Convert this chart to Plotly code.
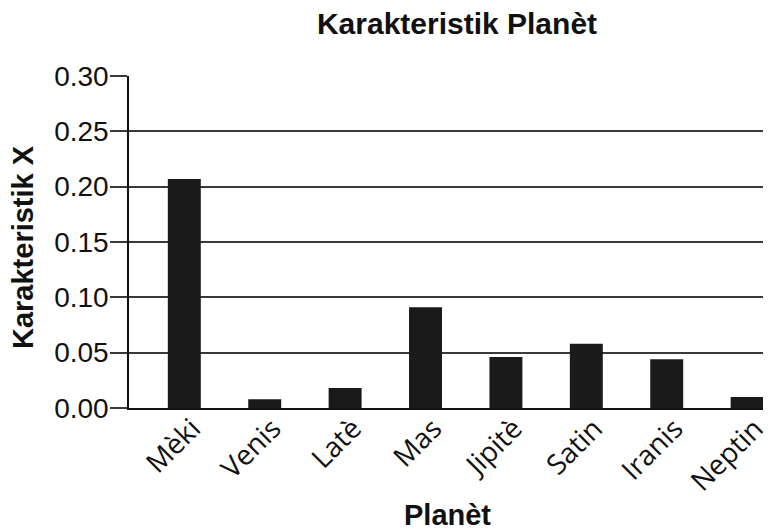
import plotly.graph_objects as go

# Planet names (Haitian Creole) and their characteristic X values
planets = ["Mèki", "Venis", "Latè", "Mas", "Jipitè", "Satin", "Iranis", "Neptin"]
values = [0.207, 0.008, 0.018, 0.091, 0.046, 0.058, 0.044, 0.010]
y_ticks = [0.00, 0.05, 0.10, 0.15, 0.20, 0.25, 0.30]
y_tick_labels = ["0.00", "0.05", "0.10", "0.15", "0.20", "0.25", "0.30"]

# page body has an 8px default margin, so the figure is drawn 8px smaller
W, H = 763, 523
L, T, B = 121, 68, 123
pw, ph = W - L, H - T - B

fig = go.Figure(go.Bar(
    x=planets,
    y=values,
    marker=dict(color="#1a1a1a", line=dict(width=0)),
    width=0.41,
))

fig.update_layout(
    width=W,
    height=H,
    paper_bgcolor="white",
    plot_bgcolor="white",
    margin=dict(l=L, r=0, t=T, b=B),
    showlegend=False,
    title=dict(
        text="<b>Karakteristik Planèt</b>",
        font=dict(family="Liberation Sans", size=30, color="#111"),
        x=449 / W, xanchor="center",
        y=1 - 5 / H, yanchor="top",
    ),
    font=dict(family="Liberation Sans", color="#111"),
)

fig.update_xaxes(
    range=[-0.688, 7.297],
    showgrid=False,
    showline=True,
    linecolor="#111",
    linewidth=2,
    ticks="",
    tickangle=-45,
    ticklabelshift=8,
    ticklabelstandoff=-9,
    tickfont=dict(family="Open Sans", size=28, color="#111"),
)

fig.update_yaxes(
    range=[0, 0.30],
    tickvals=y_ticks,
    ticktext=y_tick_labels,
    showgrid=True,
    gridcolor="#3a3a3a",
    gridwidth=1.5,
    showline=True,
    linecolor="#111",
    linewidth=1.5,
    ticks="outside",
    ticklen=17,
    tickcolor="#3a3a3a",
    tickwidth=1.5,
    ticklabelstandoff=-4,
    tickfont=dict(family="Liberation Sans", size=28, color="#111"),
    zeroline=False,
)

# axis titles placed as annotations
fig.add_annotation(
    text="<b>Planèt</b>", xref="paper", yref="paper",
    x=(439 - L) / pw, y=-(507 - (T + ph)) / ph,
    xanchor="center", yanchor="middle", showarrow=False,
    font=dict(family="Liberation Sans", size=29, color="#111"),
)
fig.add_annotation(
    text="<b>Karakteristik X</b>", xref="paper", yref="paper",
    x=(15 - L) / pw, y=((T + ph) - 239) / ph, textangle=-90,
    xanchor="center", yanchor="middle", showarrow=False,
    font=dict(family="Liberation Sans", size=29, color="#111"),
)

fig.write_html("out.html")
